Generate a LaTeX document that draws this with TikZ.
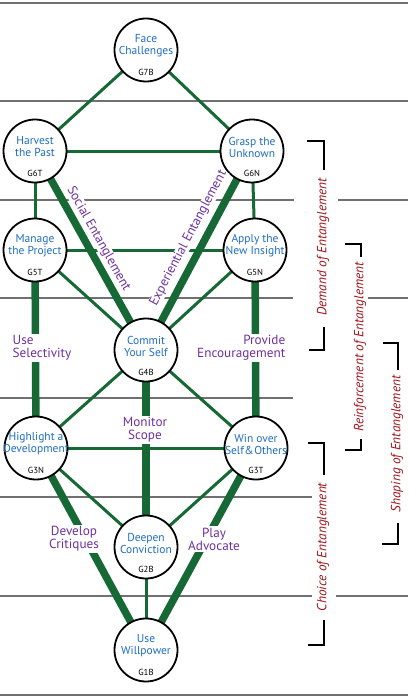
\documentclass[tikz,border=0pt]{standalone}
\usepackage{fontspec}
\setmainfont{PT Sans}
\definecolor{gline}{RGB}{112,112,112}
\definecolor{ggreen}{RGB}{22,104,52}
\definecolor{nblue}{RGB}{30,110,195}
\definecolor{lpurple}{RGB}{112,48,160}
\definecolor{dred}{RGB}{160,20,25}
\pgfdeclarelayer{bg}\pgfdeclarelayer{edges}\pgfsetlayers{bg,edges,main}
\tikzset{
 gcircle/.style={circle,draw=black,line width=1.8pt,fill=white,minimum size=63pt,inner sep=0pt},
 gtext/.style={text=nblue,font=\fontsize{11.5}{12}\selectfont,align=center,inner sep=0pt},
 gcode/.style={text=black,font=\fontsize{8.8}{9}\selectfont,inner sep=0pt},
 tedge/.style={draw=ggreen,line width=3pt},
 kedge/.style={draw=ggreen,line width=7.5pt},
 hline/.style={draw=gline,line width=1.5pt},
 plabel/.style={text=lpurple,font=\fontsize{13.2}{12.8}\selectfont,fill=white,inner sep=1.5pt},
 slabel/.style={text=lpurple,font=\fontsize{13.2}{13}\selectfont,fill=white,inner sep=0.5pt},
 rlabel/.style={text=dred,font=\itshape\fontsize{13.3}{13}\selectfont,rotate=90,inner sep=1pt},
 bracketline/.style={draw=black,line width=2pt},
}
\newcommand\mkgnode[5]{%
 \node[gcircle] (#1) at (#2,#3) {};
 \node[gtext] (#1t) at ([yshift=4pt]#1.center) {#4};
 \node[gcode] (#1c) at ([yshift=-22pt]#1.center) {#5};
}
\begin{document}
\begin{tikzpicture}[x=1pt,y=-1pt]
\useasboundingbox (0,0) rectangle (408,698);
% nodes
\mkgnode{g7b}{146}{50}{Face\\Challenges}{G7B}
\mkgnode{g6t}{35}{151}{Harvest\\the Past}{G6T}
\mkgnode{g6n}{252}{151}{Grasp the\\Unknown}{G6N}
\mkgnode{g5t}{35}{250}{Manage\\the Project}{G5T}
\mkgnode{g5n}{255}{250}{Apply the\\New Insight}{G5N}
\mkgnode{g4b}{146}{350}{Commit\\Your Self}{G4B}
\mkgnode{g3n}{36}{448}{Highlight a\\Development}{G3N}
\mkgnode{g3t}{256}{448}{Win over\\Self\kern0.5pt\&\kern0.5pt Others}{G3T}
\mkgnode{g2b}{146}{547}{Deepen\\Conviction}{G2B}
\mkgnode{g1b}{146}{650}{Use\\Willpower}{G1B}
% gray level lines
\begin{pgfonlayer}{bg}
\coordinate (l1a) at (0,3); \coordinate (l1b) at (408,3);
\coordinate (l2a) at (0,101); \coordinate (l2b) at (408,101);
\coordinate (l3a) at (0,200); \coordinate (l3b) at (294,200);
\coordinate (l3c) at (338,200); \coordinate (l3d) at (408,200);
\coordinate (l4a) at (0,298); \coordinate (l4b) at (293,298);
\coordinate (l4c) at (368,298); \coordinate (l4d) at (408,298);
\coordinate (l5a) at (0,398); \coordinate (l5b) at (293,398);
\coordinate (l6a) at (0,497); \coordinate (l6b) at (312,497);
\coordinate (l7a) at (0,596); \coordinate (l7b) at (312,596);
\coordinate (l7c) at (336,596); \coordinate (l7d) at (408,596);
\coordinate (l8a) at (0,695); \coordinate (l8b) at (408,695);
\draw[hline] (l1a) -- (l1b);
\draw[hline] (l2a) -- (l2b);
\draw[hline] (l3a) -- (l3b); \draw[hline] (l3c) -- (l3d);
\draw[hline] (l4a) -- (l4b); \draw[hline] (l4c) -- (l4d);
\draw[hline] (l5a) -- (l5b);
\draw[hline] (l6a) -- (l6b);
\draw[hline] (l7a) -- (l7b); \draw[hline] (l7c) -- (l7d);
\draw[hline] (l8a) -- (l8b);
\end{pgfonlayer}
% edges
\begin{pgfonlayer}{edges}
\draw[tedge] (g7b.center) -- (g6t.center);
\draw[tedge] (g7b.center) -- (g6n.center);
\draw[tedge] (g6t.center) -- (g6n.center);
\draw[tedge] (g6t.center) -- (g5t.center);
\draw[tedge] (g6n.center) -- (g5n.center);
\draw[tedge] (g5t.center) -- (g5n.center);
\draw[tedge] (g5t.center) -- (g4b.center);
\draw[tedge] (g5n.center) -- (g4b.center);
\draw[tedge] (g4b.center) -- (g3n.center);
\draw[tedge] (g4b.center) -- (g3t.center);
\draw[tedge] (g3n.center) -- (g3t.center);
\draw[tedge] (g3n.center) -- (g2b.center);
\draw[tedge] (g3t.center) -- (g2b.center);
\draw[tedge] (g2b.center) -- (g1b.center);
\draw[kedge] (g6t.center) -- (g4b.center);
\draw[kedge] (g6n.center) -- (g4b.center);
\draw[kedge] (g5t.center) -- (g3n.center);
\draw[kedge] (g5n.center) -- (g3t.center);
\draw[kedge] (g4b.center) -- (g2b.center);
\draw[kedge] (g3n.center) -- (g1b.center);
\draw[kedge] (g3t.center) -- (g1b.center);
\end{pgfonlayer}
% purple labels
\node[slabel,rotate=-60.7] (social) at (98.5,239) {Social Entanglement};
\node[slabel,rotate=62.3] (exper) at (188.5,238) {Experiential Entanglement};
\node[plabel,align=left,anchor=west] (usesel) at (11,348) {Use\\Selectivity};
\node[plabel,align=right,anchor=east] (provenc) at (287,348) {Provide\\Encouragement};
\node[plabel,align=center] (monscope) at (145,430) {Monitor\\Scope};
\node[plabel,align=center] (devcrit) at (74,539) {Develop\\Critiques};
\node[plabel,align=center] (playadv) at (214,539) {Play\\Advocate};
% right side labels and brackets
\node[rlabel] (demand) at (323,247) {Demand of Entanglement};
\node[rlabel] (reinf) at (360,347) {Reinforcement of Entanglement};
\node[rlabel] (shaping) at (397,444) {Shaping of Entanglement};
\node[rlabel] (choice) at (323,547) {Choice of Entanglement};
\draw[bracketline] (307,141) -- (324,141) -- (324,170);
\draw[bracketline] (324,327) -- (324,350) -- (309,350);
\draw[bracketline] (345,244) -- (361,244) -- (361,257);
\draw[bracketline] (361,439) -- (361,450) -- (345,450);
\draw[bracketline] (383,343) -- (398,343) -- (398,370);
\draw[bracketline] (398,523) -- (398,544) -- (382,544);
\draw[bracketline] (308,443) -- (324,443) -- (324,475);
\draw[bracketline] (324,620) -- (324,645) -- (308,645);
\end{tikzpicture}
\end{document}
